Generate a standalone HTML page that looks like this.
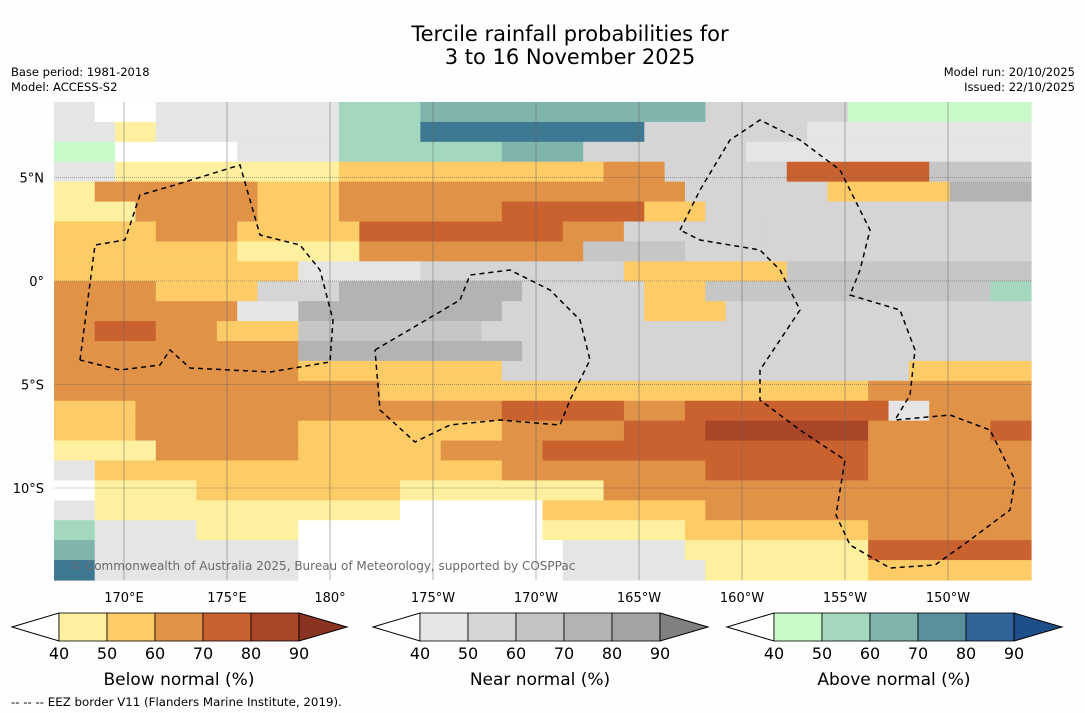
<!DOCTYPE html>
<html><head><meta charset="utf-8"><style>
body{margin:0;background:#fefefe;font-family:"DejaVu Sans","Liberation Sans",sans-serif;}
svg{display:block;font-family:"DejaVu Sans","Liberation Sans",sans-serif;}
</style></head><body>
<svg width="1085" height="713" viewBox="0 0 1085 713">
<text x="570" y="41" font-size="21" text-anchor="middle">Tercile rainfall probabilities for</text>
<text x="570" y="64" font-size="21" text-anchor="middle">3 to 16 November 2025</text>
<text x="11" y="76" font-size="11.5">Base period: 1981-2018</text>
<text x="11" y="91" font-size="11.5">Model: ACCESS-S2</text>
<text x="1075" y="76" font-size="11.5" text-anchor="end">Model run: 20/10/2025</text>
<text x="1075" y="91" font-size="11.5" text-anchor="end">Issued: 22/10/2025</text>
<g id="map"></g>
<g id="grid"></g>
<path fill="none" stroke="#000" stroke-width="1.5" stroke-dasharray="5,4" d="M80,360 L95,245 L125,240 L140,195 L175,185 L240,165 L260,235 L300,245 L320,270 L333,320 L330,362 L270,372 L190,368 L170,350 L160,365 L120,370 L80,360 M375,350 L460,300 L470,275 L510,270 L550,290 L580,320 L590,360 L570,400 L560,425 L500,420 L450,425 L415,442 L380,410 L375,350 M680,230 L700,190 L730,140 L760,120 L800,140 L840,170 L870,230 L860,270 L850,295 L900,310 L915,350 L910,395 L895,420 L950,415 L990,430 L1015,480 L1010,510 L970,540 L935,565 L890,568 L850,545 L836,515 L845,460 L800,430 L760,400 L760,370 L800,310 L780,270 L760,250 L700,240 L680,230"/>
<text x="70" y="570" font-size="12" fill="#6a6a6a">© Commonwealth of Australia 2025, Bureau of Meteorology, supported by COSPPac</text>
<g id="lonlabels" font-size="13" text-anchor="middle"></g>
<g id="latlabels" font-size="13" text-anchor="end"></g>
<g id="bars"></g>
<text x="11" y="706" font-size="11.8">--  --  -- EEZ border V11 (Flanders Marine Institute, 2019).</text>
</svg>
<script>
const gridRows = [
"g2 w3 g9 b4 c14 h7 a9","g3 y2 g9 b4 e11 h8 g11","a3 w6 g5 b8 c4 h8 g14",
"g3 y6 y5 o4 o9 d3 h6 r7 i5","y2 d8 o4 d4 d9 d4 h7 o6 j4","y4 d6 o4 d8 r7 o3 h16",
"o5 d4 o6 r10 d3 h7 h13","o9 y6 d11 i5 h17","o12 g6 h10 o8 i12",
"d5 o5 h4 j9 h6 o3 i14 b2","d9 g3 j10 h7 o4 h15","d2 r3 d3 o4 i9 h27",
"d12 j11 h25","d12 o10 h20 o6","d16 o24 d8","o4 d18 r6 d3 r10 g2 d5",
"o4 d8 o10 d6 r4 R8 d6 r2","y5 d7 o7 d5 r5 r11 d8","g2 o20 d10 r8 d8",
"w2 y5 o10 y10 d12 d9","g2 y15 w7 o8 d16","b2 g5 y5 w12 y7 o9 d8",
"c2 g10 w13 g6 y9 r8","e2 g10 w13 g7 y8 o8"];
const categoryColors = {w:"#ffffff",y:"#fff0a0",o:"#fdcc67",d:"#e09247",r:"#c9622f",R:"#a84627",
 g:"#e5e5e5",h:"#d5d5d5",i:"#c6c6c6",j:"#b3b3b3",k:"#a0a0a0",
 a:"#c8f9c8",b:"#a3d8be",c:"#80b5ad",e:"#3e7893",f:"#2d5e94"};
const lonTicks = [170,175,180,-175,-170,-165,-160,-155,-150];
const lonLabels = ["170°E","175°E","180°","175°W","170°W","165°W","160°W","155°W","150°W"];
const latTicks = [5,0,-5,-10];
const latLabels = ["5°N","0°","5°S","10°S"];
const barLevels = ["40","50","60","70","80","90"];
const barTitles = ["Below normal (%)","Near normal (%)","Above normal (%)"];
const barColors = [
 ["#fff0a0","#fdcc67","#e09247","#c9622f","#a84627","#8a3320"],
 ["#e5e5e5","#d5d5d5","#c4c4c4","#b3b3b3","#a3a3a3","#808080"],
 ["#c8f9c8","#a3d8be","#80b5ad","#5a8f9c","#316399","#1d4e89"]];

const NS="http://www.w3.org/2000/svg";
const X0=54,X1=1031,Y0=102,Y1=580,NC=48;
const cw=(X1-X0)/NC, rh=(Y1-Y0)/gridRows.length;
function lonX(l){const e=l<0?l+360:l;return 124+(e-170)*20.6;}
function latY(l){return 281-l*20.7;}
function mk(tag,attrs,parent){const el=document.createElementNS(NS,tag);for(const k in attrs)el.setAttribute(k,attrs[k]);parent.appendChild(el);return el;}
const map=document.getElementById('map');
gridRows.forEach((row,r)=>{let c=0;row.split(' ').forEach(tok=>{const code=tok[0],n=parseInt(tok.slice(1));
 const el=mk('rect',{x:X0+c*cw,y:Y0+r*rh,width:n*cw+0.6,height:rh+0.6,fill:categoryColors[code]},map);
 
 
 c+=n;});});
const grid=document.getElementById('grid');
lonTicks.forEach((l,i)=>{const x=lonX(l);
 const ln=mk('line',{x1:x,x2:x,y1:Y0,y2:Y1,stroke:"#666",'stroke-width':0.5},grid);
 
 
 const t=mk('text',{x:x,y:602},document.getElementById('lonlabels'));t.textContent=lonLabels[i];
 
 });
latTicks.forEach((l,i)=>{const y=latY(l);
 const ln=mk('line',{x1:X0,x2:X1,y1:y,y2:y,stroke:"#555",'stroke-width':0.6,'stroke-dasharray':'1,1'},grid);
 
 
 const t=mk('text',{x:44,y:y+5},document.getElementById('latlabels'));t.textContent=latLabels[i];
 
 });
const bars=document.getElementById('bars');
const starts=[12,373,727];
starts.forEach((sx,b)=>{const x0=sx+47,w=48,top=613,h=28;
 const lt=mk('polygon',{points:`${sx},${top+h/2} ${x0},${top} ${x0},${top+h}`,fill:"#fff",stroke:"#000",'stroke-width':1},bars);
 
 
 for(let i=0;i<5;i++){const rc=mk('rect',{x:x0+i*w,y:top,width:w,height:h,fill:barColors[b][i],stroke:"#000",'stroke-width':0.8},bars);
  
  }
 const xe=x0+5*w;
 const rt=mk('polygon',{points:`${xe},${top} ${xe+48},${top+h/2} ${xe},${top+h}`,fill:barColors[b][5],stroke:"#000",'stroke-width':1},bars);
 
 
 barLevels.forEach((lv,i)=>{const t=mk('text',{x:x0+i*w,y:659,'font-size':16,'text-anchor':'middle'},bars);t.textContent=lv;
  
  });
 const tt=mk('text',{x:x0+2.5*w,y:685,'font-size':17,'text-anchor':'middle'},bars);tt.textContent=barTitles[b];
 
 });
</script>
</body></html>
